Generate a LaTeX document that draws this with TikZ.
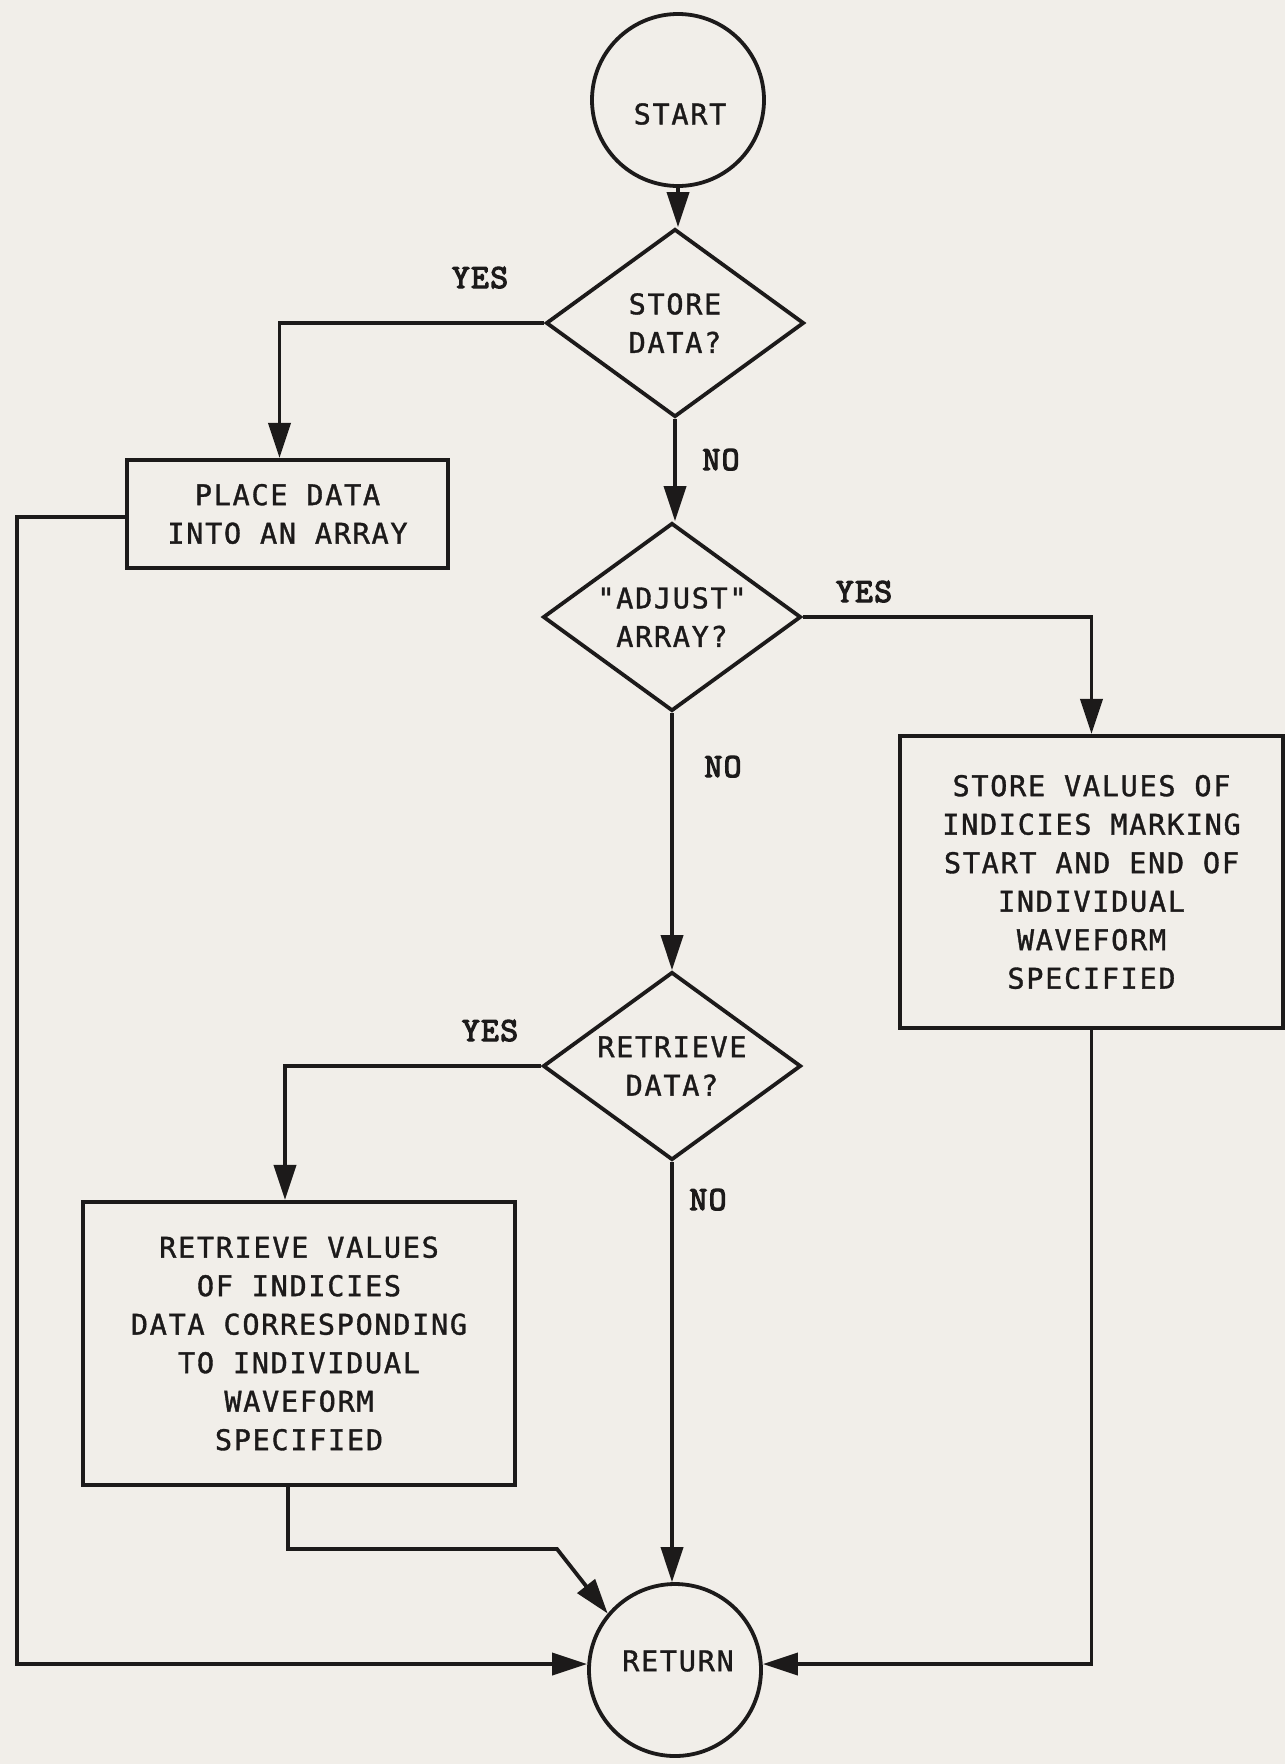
\documentclass[tikz,border=0pt]{standalone}
\usepackage{fontspec}
\newfontfamily\boxfont{DejaVu Sans Mono}[LetterSpace=6.0,FakeBold=1.2]
\newfontfamily\lblfont{lmmono10-regular}[Extension=.otf,FakeBold=3.5,LetterSpace=4.0]
\usetikzlibrary{shapes.geometric,arrows.meta}
\definecolor{ink}{RGB}{28,26,26}
\definecolor{paper}{RGB}{241,238,233}
\tikzset{
  flowline/.style={draw=ink, line width=3.8pt, line join=miter},
  arr/.style={-{Triangle[length=35pt,width=22pt]}},
  boxtext/.style={font=\boxfont\fontsize{28.5}{38.5}\selectfont, text=ink},
  procbox/.style={boxtext, draw=ink, line width=4.2pt, rectangle, inner sep=0pt, align=center},
  decision/.style={boxtext, draw=ink, line width=3.8pt, diamond, aspect=1.37, inner sep=0pt,
                   minimum width=258pt, minimum height=188pt, align=center},
  terminal/.style={draw=ink, line width=3.8pt, circle, minimum size=172pt, inner sep=0pt},
  termtext/.style={boxtext, inner sep=0pt},
  answer/.style={font=\lblfont\fontsize{34}{34}\selectfont, text=ink, inner sep=0pt, anchor=base},
}
\begin{document}
\begin{tikzpicture}[x=1pt,y=-1pt]
\fill[paper] (0,0) rectangle (1285,1764);
\useasboundingbox (0,0) rectangle (1285,1764);

% nodes
\node[terminal] (start) at (678,100) {};
\node[termtext] (starttext) at (680,114) {START};
\node[decision] (store) at (675,323) {STORE\\DATA?};
\node[procbox, minimum width=321pt, minimum height=108pt] (place) at (287.5,514) {PLACE DATA\\INTO AN ARRAY};
\node[decision] (adjust) at (672,617) {"ADJUST"\\ARRAY?};
\node[procbox, minimum width=383pt, minimum height=292pt] (svals) at (1091.5,882)
  {STORE VALUES OF\\INDICIES MARKING\\START AND END OF\\INDIVIDUAL\\WAVEFORM\\SPECIFIED};
\node[decision] (retr) at (672,1066) {RETRIEVE\\DATA?};
\node[procbox, minimum width=432pt, minimum height=283pt] (rvals) at (299,1343.5)
  {RETRIEVE VALUES\\OF INDICIES\\DATA CORRESPONDING\\TO INDIVIDUAL\\WAVEFORM\\SPECIFIED};
\node[terminal] (return) at (675,1670) {};
\node[termtext] (returntext) at (678,1661) {RETURN};

% branch labels
\node[answer] (yes1) at (480,288) {YES};
\node[answer] (no1) at (721,470) {NO};
\node[answer] (yes2) at (864,602) {YES};
\node[answer] (no2) at (723,777) {NO};
\node[answer] (yes3) at (490,1041) {YES};
\node[answer] (no3) at (708,1210) {NO};

% connectors
\coordinate (leftrail) at (17,517);
\coordinate (bend) at (557,1549);
\draw[flowline, arr] (start.south) -- (start.south |- store.north);
\draw[flowline, arr] (store.west) -| ([xshift=-8pt]place.north);
\draw[flowline, arr] (store.south) -- (store.south |- adjust.north);
\draw[flowline, arr] ([yshift=-3pt]place.west) -- ([yshift=-3pt]place.west -| leftrail) |- ([yshift=6pt]return.west);
\draw[flowline, arr] (adjust.east) -| (svals.north);
\draw[flowline, arr] (adjust.south) -- (adjust.south |- retr.north);
\draw[flowline, arr] (retr.west) -| ([xshift=-14pt]rvals.north);
\draw[flowline, arr] (retr.south) -- (retr.south |- return.north);
\draw[flowline, arr] ([xshift=-11pt]rvals.south) |- (bend) -- (return.140);
\draw[flowline, arr] (svals.south) |- ([yshift=6pt]return.east);
\end{tikzpicture}
\end{document}
